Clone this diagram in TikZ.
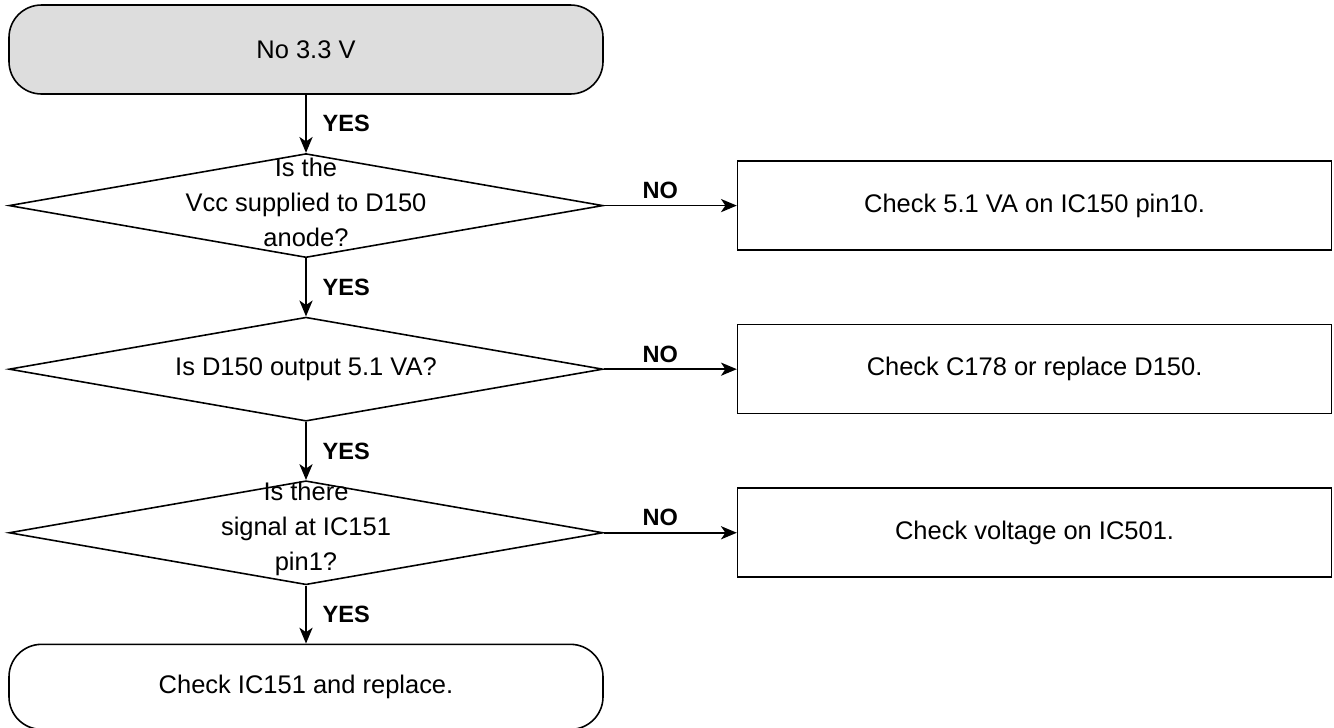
\documentclass[tikz,border=0pt]{standalone}
\usepackage{fontspec}
\setmainfont{Liberation Sans}
\usetikzlibrary{arrows.meta,positioning,shapes.geometric}
\definecolor{startgray}{RGB}{221,221,221}

\begin{document}
\begin{tikzpicture}[
  font=\fontsize{14.5}{20}\selectfont,
  node distance=1.16cm,
  line width=0.9pt,
  term/.style={draw, rounded corners=0.65cm, minimum width=11.88cm, minimum height=1.78cm,
               align=center},
  decision/.style={draw, diamond, aspect=5.7, minimum width=11.88cm, minimum height=2.08cm,
                   inner sep=0pt},
  action/.style={draw, minimum width=11.88cm, minimum height=1.78cm, align=center},
  ans/.style={font=\fontsize{13.4}{16}\selectfont\bfseries},
  arr/.style={-{Stealth[length=9pt, width=7.5pt, inset=2.5pt]}, line width=1pt}
]
\useasboundingbox (0,0) rectangle (26.68,-14.54);

% ---------- Inicio ----------
\node[term, fill=startgray] (start) at (6.12,-0.99) {No 3.3 V};

% ---------- Preguntas ----------
\node[decision, below=of start] (d1) {};
\node[align=center, yshift=0.07cm] (q1) at (d1) {Is the\\Vcc supplied to D150\\anode?};
\node[decision, below=of d1] (d2) {};
\node[align=center] (q2) at (d2) {Is D150 output 5.1 VA?};
\node[decision, below=of d2] (d3) {};
\node[align=center, yshift=0.07cm] (q3) at (d3) {Is there\\signal at IC151\\pin1?};

% ---------- Fin ----------
\node[term, minimum height=1.7cm, below=of d3] (stop) {Check IC151 and replace.};

% ---------- Acciones ----------
\node[action, right=2.66cm of d1] (a1) {Check 5.1 VA on IC150 pin10.};
\node[action, right=2.66cm of d2] (a2) {Check C178 or replace D150.};
\node[action, right=2.66cm of d3] (a3) {Check voltage on IC501.};

% ---------- Flechas ----------
\draw[arr] (start) -- node[ans, right=0.2cm] {YES} (d1);
\draw[arr] (d1) -- node[ans, right=0.2cm] {YES} (d2);
\draw[arr] (d2) -- node[ans, right=0.2cm] {YES} (d3);
\draw[arr] (d3) -- node[ans, right=0.2cm] {YES} (stop);
\draw[arr] (d1.east) -- node[ans, above, xshift=-0.2cm] {NO} (a1);
\draw[arr] (d2.east) -- node[ans, above, xshift=-0.2cm] {NO} (a2);
\draw[arr] (d3.east) -- node[ans, above, xshift=-0.2cm] {NO} (a3);

\end{tikzpicture}
\end{document}
